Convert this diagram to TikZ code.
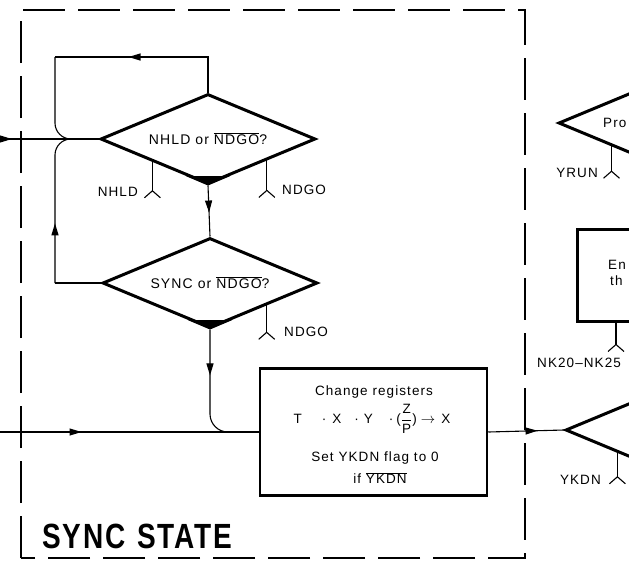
\documentclass[tikz,border=0pt]{standalone}
\usepackage{fontspec}
\setmainfont{Liberation Sans}[LetterSpace=8]
\newfontfamily\titlefont{Liberation Sans}[FakeStretch=0.8,LetterSpace=5]
\usetikzlibrary{shapes.geometric,arrows.meta,decorations.markings,calc}
\newcommand\myol[1]{$\overline{\hbox{#1}}$}
\tikzset{
  lbl/.style={font=\fontsize{13.5}{15}\selectfont, inner sep=0pt},
  dia/.style={diamond, draw, line width=3pt, shape aspect=2.4, minimum width=215pt, minimum height=90pt, inner sep=0pt, font=\fontsize{14}{16}\selectfont},
  boxnode/.style={rectangle, draw, line width=2.5pt, inner sep=0pt},
  conn/.style={line width=1.1pt},
  marr/.style={postaction={decorate}, decoration={markings, mark=at position #1 with {\arrow{Triangle[length=12pt,width=7pt]}}}},
  boundary/.style={line width=1.8pt, dash pattern=on 42pt off 13pt},
  forkpic/.pic={\draw[line width=1.1pt] (-8,7) -- (0,0) -- (8,7);},
}
\begin{document}
\begin{tikzpicture}[x=1pt,y=-1pt]
\useasboundingbox (0,0) rectangle (629,574);
\clip (0,0) rectangle (629,574);
% state boundary
\draw[boundary] (21,558) -- (21,10) -- (525,10) -- (525,558) -- cycle;
% decisions and box
\node[dia] (d1) at (208,139) {NHLD or \myol{NDGO}?};
\node[dia] (d2) at (210,283) {SYNC or \myol{NDGO}?};
\node[boxnode, minimum width=227pt, minimum height=127pt] (box) at (373.5,432) {};
\node[lbl] (t1) at (374,392) {Change registers};
\node[lbl] (t2) at (372,419) {T\hspace{20pt}·\hspace{6pt}X\hspace{13pt}·\hspace{5pt}Y\hspace{16pt}·\hspace{3pt}($\displaystyle\frac{\hbox{Z}}{\hbox{P}}$)\hspace{4pt}$\rightarrow$\hspace{6pt}X};
\node[lbl] (t3) at (375,458) {Set YKDN flag to 0};
\node[lbl] (t4) at (380,478) {if \myol{YKDN}};
% right-hand partial elements
\node[dia] (d4) at (666,123) {};
\node[lbl, anchor=west] (t5) at (603,123) {Pro};
\node[boxnode, minimum width=227pt, minimum height=92pt, anchor=north west] (bx2) at (576,228) {};
\node[lbl, anchor=west] (t6) at (608,265) {En};
\node[lbl, anchor=west] (t7) at (610,281) {th};
\node[dia] (d3) at (673,430) {};
% labels
\node[lbl, anchor=east] (l1) at (138,192) {NHLD};
\node[lbl, anchor=west] (l2) at (282,190) {NDGO};
\node[lbl, anchor=west] (l3) at (284,332) {NDGO};
\node[lbl, anchor=east] (l4) at (598,173) {YRUN};
\node[lbl, anchor=west] (l5) at (537,363) {NK20–NK25};
\node[lbl, anchor=east] (l6) at (601,480) {YKDN};
\node[anchor=west, inner sep=0pt, font=\titlefont\bfseries\fontsize{35}{40}\selectfont] (title) at (42,536) {SYNC\hspace{12pt}STATE};
% filled tips
\fill ($(d1.south)!0.2!(d1.west)$) -- (d1.south) -- ($(d1.south)!0.2!(d1.east)$) -- cycle;
\fill ($(d2.south)!0.2!(d2.west)$) -- (d2.south) -- ($(d2.south)!0.2!(d2.east)$) -- cycle;
% coordinates
\coordinate (in1) at (0,139);
\coordinate (j1) at (71,139);
\coordinate (tl) at (55,57);
\coordinate (bl) at (55,283);
\coordinate (in2) at (0,432);
% connectors
\draw[conn, marr=0.12] (in1) -- (d1.west);
\draw[conn, marr=0.61] (d1.north) |- (tl);
\draw[conn, rounded corners=16pt] (tl) |- (j1);
\draw[conn] (d2.west) -- (bl);
\draw[conn, rounded corners=16pt, marr=0.39] (bl) |- (j1);
\draw[conn, marr=0.53] (d1.south) -- (d2.north);
\draw[conn, marr=0.315] (in2) -- (box.west);
\draw[conn, rounded corners=18pt, marr=0.32] (d2.south) |- (box.west);
\draw[conn, marr=0.65] (box.east) -- (d3.west);
% stubs
\path ($(d1.west)!0.49!(d1.south)$) coordinate (s1) ++(0,29) coordinate (f1);
\path ($(d1.south)!0.54!(d1.east)$) coordinate (s2) ++(0,30) coordinate (f2);
\path ($(d2.south)!0.52!(d2.east)$) coordinate (s3) ++(0,27) coordinate (f3);
\path ($(d4.west)!0.5!(d4.south)$) coordinate (s4) ++(0,25) coordinate (f4);
\path ($(bx2.south west)+(40,0)$) coordinate (s5) ++(0,22) coordinate (f5);
\path ($(d3.west)!0.49!(d3.south)$) coordinate (s6) ++(0,24) coordinate (f6);
\foreach \i in {1,...,6} {
  \draw[conn] (s\i) -- (f\i);
  \pic at (f\i) {forkpic};
}
\end{tikzpicture}
\end{document}
